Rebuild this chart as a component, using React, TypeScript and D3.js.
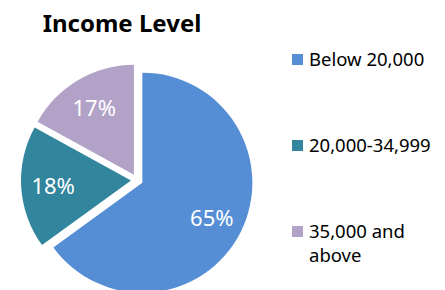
import { useMemo } from "react"
import * as d3 from "d3"

const categories = ["Below 20,000", "20,000-34,999", "35,000 and above"]
const shares = [65, 18, 17]
const sliceLabels = ["65%", "18%", "17%"]
const legendLines = [["Below 20,000"], ["20,000-34,999"], ["35,000 and", "above"]]
const colors = ["#558ED5", "#31859C", "#B3A2C7"]

const width = 445
const height = 290
const cx = 137
const cy = 180
const radius = 110
const explode = 6
const labelRadius = 78
const font = "'Noto Sans', 'Open Sans', sans-serif"

const App = () => {
  const arcs = useMemo(
    () =>
      d3
        .pie<number>()
        .sort(null)
        .value((d) => d)(shares),
    [],
  )

  const arc = d3.arc<d3.PieArcDatum<number>>().innerRadius(0).outerRadius(radius)
  const labelArc = d3.arc<d3.PieArcDatum<number>>().innerRadius(labelRadius).outerRadius(labelRadius)

  const color = d3.scaleOrdinal<string>().domain(categories).range(colors)

  // legend rows, baseline of first line of each item
  const legendY = d3.scalePoint<string>().domain(categories).range([66, 238])

  return (
    <svg
      width={width}
      height={height}
      style={{ position: "absolute", left: 0, top: 0, background: "#fff" }}
    >
      <text
        x={122}
        y={32}
        textAnchor="middle"
        fontFamily={font}
        fontWeight="bold"
        fontSize={24}
        fill="#000"
      >
        Income Level
      </text>

      <g transform={`translate(${cx},${cy})`}>
        {arcs.map((a, i) => {
          const mid = (a.startAngle + a.endAngle) / 2
          const dx = Math.sin(mid) * explode
          const dy = -Math.cos(mid) * explode
          const [lx, ly] = labelArc.centroid(a)
          return (
            <g key={categories[i]} transform={`translate(${dx},${dy})`}>
              <path d={arc(a) || ""} fill={color(categories[i])} />
              <text
                x={lx}
                y={ly}
                dy="0.38em"
                textAnchor="middle"
                fontFamily={font}
                fontSize={22}
                fill="#fff"
              >
                {sliceLabels[i]}
              </text>
            </g>
          )
        })}
      </g>

      <g>
        {categories.map((c, i) => {
          const y = legendY(c)!
          return (
            <g key={c}>
              <rect x={292} y={y - 12} width={11} height={11} fill={color(c)} />
              {legendLines[i].map((line, j) => (
                <text
                  key={line}
                  x={309}
                  y={y + j * 24}
                  fontFamily={font}
                  fontSize={18.5}
                  fill="#000"
                >
                  {line}
                </text>
              ))}
            </g>
          )
        })}
      </g>
    </svg>
  )
}

export default App
